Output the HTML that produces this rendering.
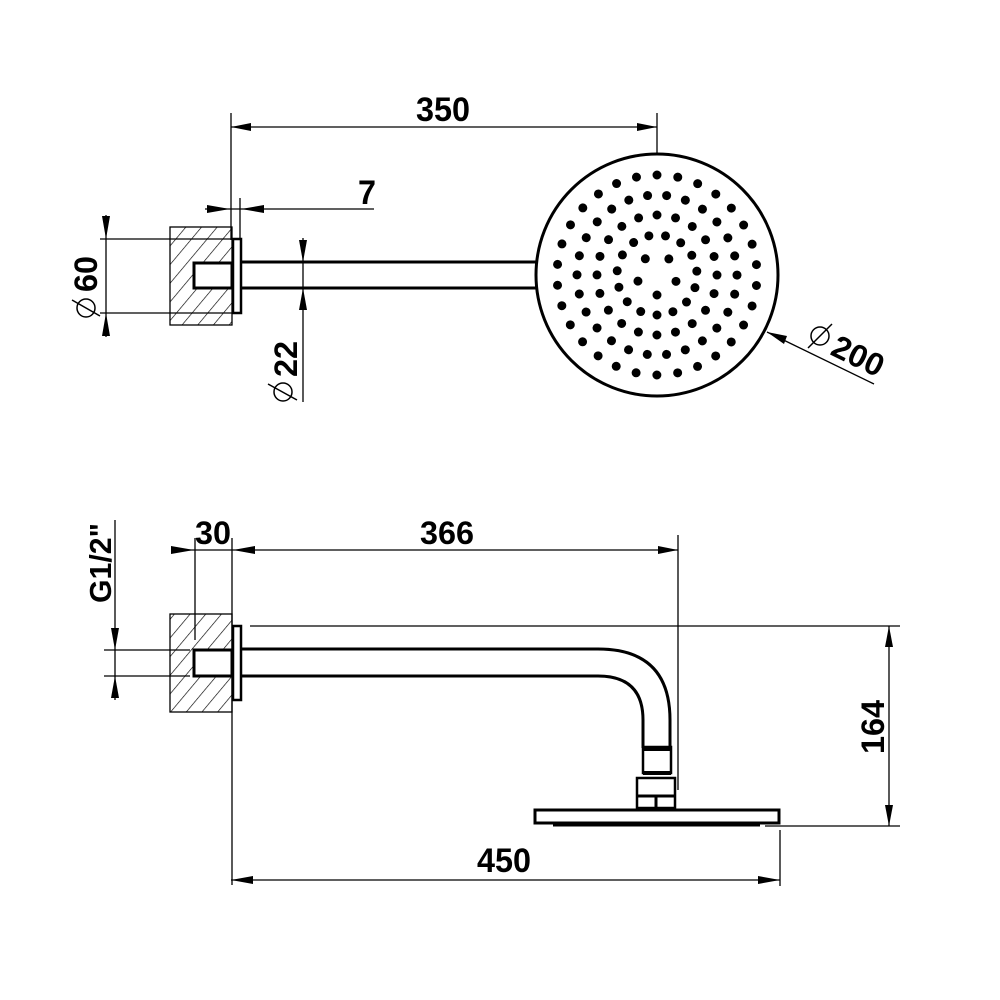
<!DOCTYPE html>
<html><head><meta charset="utf-8"><style>
html,body{margin:0;padding:0;background:#fff;}
svg{display:block;}
text{font-family:"Liberation Sans",Arial,sans-serif;font-weight:bold;fill:#000;}
</style></head><body>
<svg width="1000" height="1000" viewBox="0 0 1000 1000" xmlns="http://www.w3.org/2000/svg">
<defs>
<pattern id="h" patternUnits="userSpaceOnUse" width="12" height="12" patternTransform="rotate(40)">
<line x1="0" y1="0" x2="0" y2="12" stroke="#000" stroke-width="1.3"/>
</pattern>
</defs>
<g stroke="#000" fill="none" stroke-width="1.3">
<line x1="231" y1="113" x2="231" y2="240"/>
<line x1="657" y1="113" x2="657" y2="154"/>
<line x1="231" y1="127" x2="657" y2="127"/>
<line x1="240" y1="198" x2="240" y2="240"/>
<line x1="205" y1="209" x2="374" y2="209"/>
<rect x="170" y="227" width="62" height="98" fill="url(#h)"/>
<rect x="194" y="263" width="38" height="25" fill="#fff" stroke-width="3"/>
<rect x="233" y="239" width="8" height="74" fill="#fff" stroke-width="2.5"/>
<line x1="241" y1="262" x2="536" y2="262" stroke-width="3"/>
<line x1="241" y1="288" x2="536" y2="288" stroke-width="3"/>
<line x1="100" y1="239" x2="233" y2="239"/>
<line x1="100" y1="313" x2="233" y2="313"/>
<line x1="106" y1="215" x2="106" y2="337"/>
<line x1="303" y1="238" x2="303" y2="402"/>
<circle cx="657" cy="275" r="121" stroke-width="3"/>
<line x1="767" y1="332" x2="874" y2="384"/>
<line x1="171" y1="550" x2="678" y2="550"/>
<line x1="195" y1="538" x2="195" y2="640"/>
<line x1="232" y1="538" x2="232" y2="885"/>
<line x1="678" y1="535" x2="678" y2="790"/>
<rect x="170" y="614" width="62" height="98" fill="url(#h)"/>
<rect x="194" y="650" width="38" height="26" fill="#fff" stroke-width="3"/>
<rect x="233" y="626" width="8" height="74" fill="#fff" stroke-width="2.5"/>
<path d="M241 649 H598 Q670 649 670 720 V748" stroke-width="3"/>
<path d="M241 676 H598 Q643 676 643 720 V748" stroke-width="3"/>
<rect x="643" y="747" width="28" height="26" stroke-width="2.5"/>
<line x1="643" y1="749" x2="671" y2="749" stroke-width="4"/>
<line x1="643" y1="773" x2="671" y2="773" stroke-width="4"/>
<rect x="637" y="778" width="38" height="30" stroke-width="2.5"/>
<line x1="637" y1="796" x2="675" y2="796" stroke-width="3"/>
<line x1="656" y1="796" x2="656" y2="808" stroke-width="3"/>
<rect x="535" y="810" width="244" height="13" fill="#fff" stroke-width="3"/>
<line x1="553" y1="825" x2="760" y2="825" stroke-width="3"/>
<line x1="250" y1="626" x2="900" y2="626"/>
<line x1="765" y1="826" x2="900" y2="826"/>
<line x1="889" y1="626" x2="889" y2="826"/>
<line x1="104" y1="650" x2="190" y2="650"/>
<line x1="104" y1="676" x2="190" y2="676"/>
<line x1="115" y1="520" x2="115" y2="700"/>
<line x1="231" y1="880" x2="780" y2="880"/>
<line x1="780" y1="830" x2="780" y2="886"/>
</g>
<g fill="none" stroke="#000" stroke-width="9" stroke-linecap="round">
<circle cx="657" cy="275" r="20" stroke-dasharray="0 25.1327" transform="rotate(90 657 275)"/>
<circle cx="657" cy="275" r="40" stroke-dasharray="0 16.7552" transform="rotate(90 657 275)"/>
<circle cx="657" cy="275" r="60" stroke-dasharray="0 18.8496" transform="rotate(-90 657 275)"/>
<circle cx="657" cy="275" r="80" stroke-dasharray="0 19.3329" transform="rotate(-83.08 657 275)"/>
<circle cx="657" cy="275" r="100" stroke-dasharray="0 20.9440" transform="rotate(-90 657 275)"/>
</g>
<g fill="#000">
<polygon points="231,127 251,123 251,131"/>
<polygon points="657,127 637,123 637,131"/>
<polygon points="230,209 207,205 207,213"/>
<polygon points="241,209 264,205 264,213"/>
<polygon points="106,239 102,216 110,216"/>
<polygon points="106,313 102,336 110,336"/>
<polygon points="303,262 299,240 307,240"/>
<polygon points="303,288 299,310 307,310"/>
<polygon points="767,332 787,336 784,344"/>
<polygon points="194,550 171,546 171,554"/>
<polygon points="233,550 255,546 255,554"/>
<polygon points="678,550 658,546 658,554"/>
<polygon points="889,626 885,647 893,647"/>
<polygon points="889,826 885,805 893,805"/>
<polygon points="115,650 111,628 119,628"/>
<polygon points="115,676 111,698 119,698"/>
<polygon points="231,880 253,876 253,884"/>
<polygon points="780,880 758,876 758,884"/>
</g>
<text x="416" y="121" font-size="34" textLength="54" lengthAdjust="spacingAndGlyphs">350</text>
<text x="358" y="204" font-size="34" textLength="18" lengthAdjust="spacingAndGlyphs">7</text>
<text transform="translate(97,292) rotate(-90)" font-size="32" textLength="36" lengthAdjust="spacingAndGlyphs">60</text>
<g fill="none" stroke="#000" stroke-width="1.5">
<circle cx="86" cy="308" r="9"/><line x1="72" y1="300" x2="100" y2="316"/>
<circle cx="283" cy="392" r="9"/><line x1="268" y1="384" x2="297" y2="400"/>
<circle cx="820" cy="336" r="9"/><line x1="808" y1="348" x2="832" y2="324"/>
</g>
<text transform="translate(297,377) rotate(-90)" font-size="32" textLength="36" lengthAdjust="spacingAndGlyphs">22</text>
<text transform="translate(829,354) rotate(26)" font-size="32" textLength="54" lengthAdjust="spacingAndGlyphs">200</text>
<text x="195" y="544" font-size="32" textLength="36" lengthAdjust="spacingAndGlyphs">30</text>
<text x="420" y="544" font-size="32" textLength="54" lengthAdjust="spacingAndGlyphs">366</text>
<text transform="translate(111,603) rotate(-90)" font-size="31" textLength="80" lengthAdjust="spacingAndGlyphs">G1/2"</text>
<text transform="translate(884,754) rotate(-90)" font-size="32" textLength="54" lengthAdjust="spacingAndGlyphs">164</text>
<text x="477" y="872" font-size="34" textLength="54" lengthAdjust="spacingAndGlyphs">450</text>
</svg>
</body></html>
